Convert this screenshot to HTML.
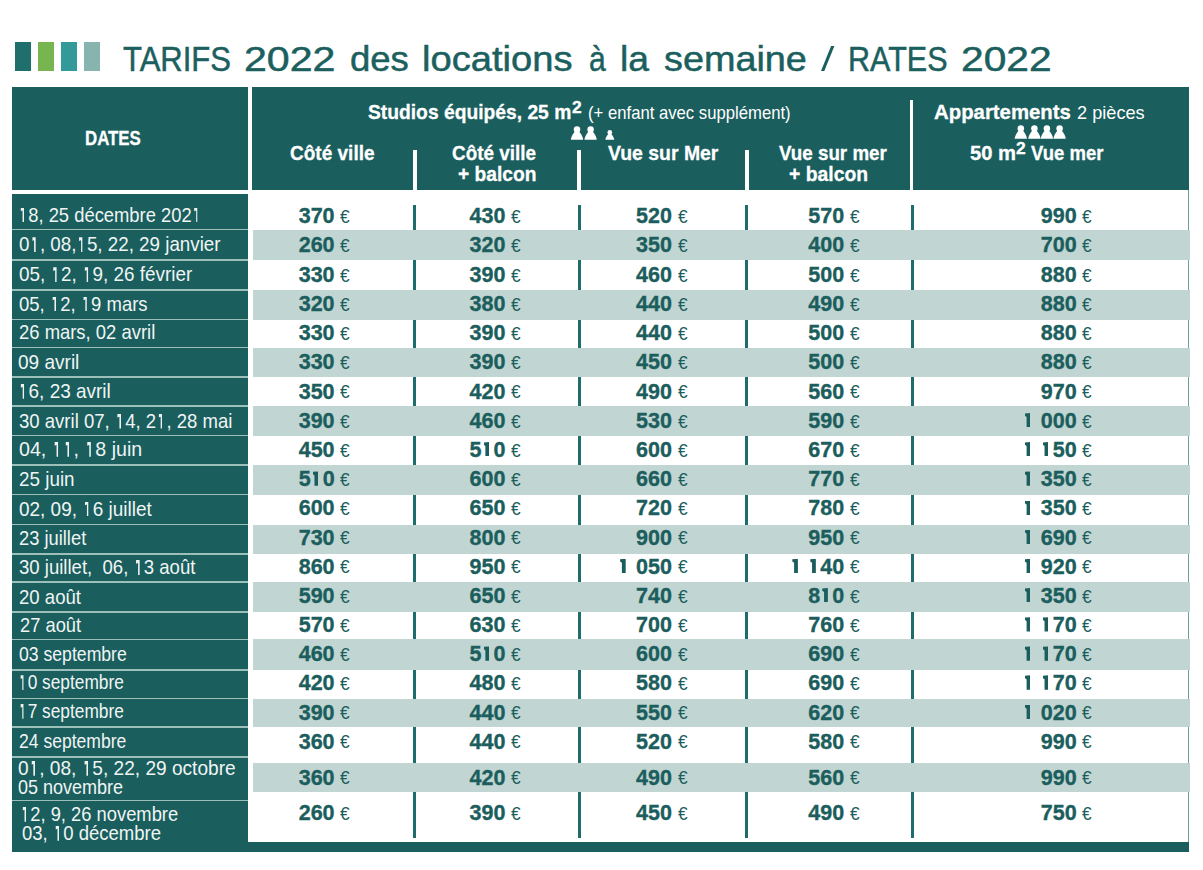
<!DOCTYPE html>
<html><head><meta charset="utf-8"><style>
*{margin:0;padding:0;box-sizing:border-box}
html,body{width:1203px;height:870px;overflow:hidden;background:#fff}
body{position:relative;font-family:"Liberation Sans",sans-serif}
.a{position:absolute}
.t{position:absolute;white-space:nowrap;line-height:1;transform-origin:0 0}
.b{font-weight:bold}
.n{-webkit-text-stroke:0.35px #1b5e5d}
.r1{position:relative;color:transparent}
.r1::before{content:"";position:absolute;left:2.9px;top:5px;width:4.1px;height:14.9px;background:#eef3f2;clip-path:polygon(0 0,4.1px 0,4.1px 100%,2.3px 100%,2.3px 3px,0 3.8px,0 2.6px)}
.d1{position:relative;color:transparent;-webkit-text-stroke:0}
.d1::before{content:"";position:absolute;left:2px;top:4.2px;width:5.6px;height:14.4px;background:#1b5e5d;clip-path:polygon(0 0.4px,5.6px 0,5.6px 100%,1.8px 100%,1.8px 4px,0 2.6px)}
</style></head><body>

<div class="a" style="left:15px;top:42px;width:16px;height:29px;background:#1f6f6d"></div>
<div class="a" style="left:38px;top:42px;width:16px;height:29px;background:#76b550"></div>
<div class="a" style="left:61px;top:42px;width:16px;height:29px;background:#339a99"></div>
<div class="a" style="left:84px;top:42px;width:16px;height:29px;background:#87b4ae"></div>
<div class="a" style="left:12px;top:87px;width:1177px;height:103px;background:#1a5e5e"></div>
<div class="a" style="left:12px;top:194px;width:236px;height:658px;background:#1a5e5e"></div>
<div class="a" style="left:248px;top:87px;width:4px;height:107px;background:#fff"></div>
<div class="a" style="left:12px;top:190px;width:236px;height:4px;background:#fff"></div>
<div class="a" style="left:12px;top:842px;width:1177px;height:10px;background:#1a5e5e"></div>
<div class="a" style="left:1188px;top:190px;width:1.3px;height:652px;background:#6a9f9b"></div>
<div class="a" style="left:413.2px;top:150px;width:3.6px;height:40px;background:#fff"></div>
<div class="a" style="left:577.4px;top:150px;width:3.6px;height:40px;background:#fff"></div>
<div class="a" style="left:745px;top:150px;width:3.5px;height:40px;background:#fff"></div>
<div class="a" style="left:909.5px;top:100px;width:3.8px;height:90px;background:#fff"></div>
<div class="a" style="left:252.5px;top:229.55px;width:937px;height:30.4px;background:#c1d5d2"></div>
<div class="a" style="left:252.5px;top:289.85px;width:937px;height:29.8px;background:#c1d5d2"></div>
<div class="a" style="left:252.5px;top:347.8px;width:937px;height:29.4px;background:#c1d5d2"></div>
<div class="a" style="left:252.5px;top:406.1px;width:937px;height:29.6px;background:#c1d5d2"></div>
<div class="a" style="left:252.5px;top:465px;width:937px;height:29.6px;background:#c1d5d2"></div>
<div class="a" style="left:252.5px;top:524.5px;width:937px;height:29.7px;background:#c1d5d2"></div>
<div class="a" style="left:252.5px;top:581.95px;width:937px;height:29.9px;background:#c1d5d2"></div>
<div class="a" style="left:252.5px;top:639.45px;width:937px;height:30.5px;background:#c1d5d2"></div>
<div class="a" style="left:252.5px;top:698.75px;width:937px;height:28.3px;background:#c1d5d2"></div>
<div class="a" style="left:252.5px;top:762.6px;width:937px;height:29.7px;background:#c1d5d2"></div>
<div class="a" style="left:413.2px;top:205px;width:3.2px;height:24.6px;background:#1e6d6c"></div>
<div class="a" style="left:578.1px;top:205px;width:3.2px;height:24.6px;background:#1e6d6c"></div>
<div class="a" style="left:745.0px;top:205px;width:3.2px;height:24.6px;background:#1e6d6c"></div>
<div class="a" style="left:910.6px;top:205px;width:3.2px;height:24.6px;background:#1e6d6c"></div>
<div class="a" style="left:413.2px;top:260.0px;width:3.2px;height:29.9px;background:#1e6d6c"></div>
<div class="a" style="left:578.1px;top:260.0px;width:3.2px;height:29.9px;background:#1e6d6c"></div>
<div class="a" style="left:745.0px;top:260.0px;width:3.2px;height:29.9px;background:#1e6d6c"></div>
<div class="a" style="left:910.6px;top:260.0px;width:3.2px;height:29.9px;background:#1e6d6c"></div>
<div class="a" style="left:413.2px;top:319.6px;width:3.2px;height:28.2px;background:#1e6d6c"></div>
<div class="a" style="left:578.1px;top:319.6px;width:3.2px;height:28.2px;background:#1e6d6c"></div>
<div class="a" style="left:745.0px;top:319.6px;width:3.2px;height:28.2px;background:#1e6d6c"></div>
<div class="a" style="left:910.6px;top:319.6px;width:3.2px;height:28.2px;background:#1e6d6c"></div>
<div class="a" style="left:413.2px;top:377.2px;width:3.2px;height:28.9px;background:#1e6d6c"></div>
<div class="a" style="left:578.1px;top:377.2px;width:3.2px;height:28.9px;background:#1e6d6c"></div>
<div class="a" style="left:745.0px;top:377.2px;width:3.2px;height:28.9px;background:#1e6d6c"></div>
<div class="a" style="left:910.6px;top:377.2px;width:3.2px;height:28.9px;background:#1e6d6c"></div>
<div class="a" style="left:413.2px;top:435.75px;width:3.2px;height:29.2px;background:#1e6d6c"></div>
<div class="a" style="left:578.1px;top:435.75px;width:3.2px;height:29.2px;background:#1e6d6c"></div>
<div class="a" style="left:745.0px;top:435.75px;width:3.2px;height:29.2px;background:#1e6d6c"></div>
<div class="a" style="left:910.6px;top:435.75px;width:3.2px;height:29.2px;background:#1e6d6c"></div>
<div class="a" style="left:413.2px;top:494.65px;width:3.2px;height:29.9px;background:#1e6d6c"></div>
<div class="a" style="left:578.1px;top:494.65px;width:3.2px;height:29.9px;background:#1e6d6c"></div>
<div class="a" style="left:745.0px;top:494.65px;width:3.2px;height:29.9px;background:#1e6d6c"></div>
<div class="a" style="left:910.6px;top:494.65px;width:3.2px;height:29.9px;background:#1e6d6c"></div>
<div class="a" style="left:413.2px;top:554.2px;width:3.2px;height:27.8px;background:#1e6d6c"></div>
<div class="a" style="left:578.1px;top:554.2px;width:3.2px;height:27.8px;background:#1e6d6c"></div>
<div class="a" style="left:745.0px;top:554.2px;width:3.2px;height:27.8px;background:#1e6d6c"></div>
<div class="a" style="left:910.6px;top:554.2px;width:3.2px;height:27.8px;background:#1e6d6c"></div>
<div class="a" style="left:413.2px;top:611.85px;width:3.2px;height:27.6px;background:#1e6d6c"></div>
<div class="a" style="left:578.1px;top:611.85px;width:3.2px;height:27.6px;background:#1e6d6c"></div>
<div class="a" style="left:745.0px;top:611.85px;width:3.2px;height:27.6px;background:#1e6d6c"></div>
<div class="a" style="left:910.6px;top:611.85px;width:3.2px;height:27.6px;background:#1e6d6c"></div>
<div class="a" style="left:413.2px;top:669.95px;width:3.2px;height:28.8px;background:#1e6d6c"></div>
<div class="a" style="left:578.1px;top:669.95px;width:3.2px;height:28.8px;background:#1e6d6c"></div>
<div class="a" style="left:745.0px;top:669.95px;width:3.2px;height:28.8px;background:#1e6d6c"></div>
<div class="a" style="left:910.6px;top:669.95px;width:3.2px;height:28.8px;background:#1e6d6c"></div>
<div class="a" style="left:413.2px;top:727.3px;width:3.2px;height:35.3px;background:#1e6d6c"></div>
<div class="a" style="left:578.1px;top:727.3px;width:3.2px;height:35.3px;background:#1e6d6c"></div>
<div class="a" style="left:745.0px;top:727.3px;width:3.2px;height:35.3px;background:#1e6d6c"></div>
<div class="a" style="left:910.6px;top:727.3px;width:3.2px;height:35.3px;background:#1e6d6c"></div>
<div class="a" style="left:413.2px;top:792.3px;width:3.2px;height:45.5px;background:#1e6d6c"></div>
<div class="a" style="left:578.1px;top:792.3px;width:3.2px;height:45.5px;background:#1e6d6c"></div>
<div class="a" style="left:745.0px;top:792.3px;width:3.2px;height:45.5px;background:#1e6d6c"></div>
<div class="a" style="left:910.6px;top:792.3px;width:3.2px;height:45.5px;background:#1e6d6c"></div>
<div class="a" style="left:12px;top:228.7px;width:236px;height:1.5px;background:#9cbfba"></div>
<div class="a" style="left:12px;top:259.1px;width:236px;height:1.5px;background:#9cbfba"></div>
<div class="a" style="left:12px;top:289.0px;width:236px;height:1.5px;background:#9cbfba"></div>
<div class="a" style="left:12px;top:318.7px;width:236px;height:1.5px;background:#9cbfba"></div>
<div class="a" style="left:12px;top:346.9px;width:236px;height:1.5px;background:#9cbfba"></div>
<div class="a" style="left:12px;top:376.3px;width:236px;height:1.5px;background:#9cbfba"></div>
<div class="a" style="left:12px;top:405.2px;width:236px;height:1.5px;background:#9cbfba"></div>
<div class="a" style="left:12px;top:434.9px;width:236px;height:1.5px;background:#9cbfba"></div>
<div class="a" style="left:12px;top:464.1px;width:236px;height:1.5px;background:#9cbfba"></div>
<div class="a" style="left:12px;top:493.8px;width:236px;height:1.5px;background:#9cbfba"></div>
<div class="a" style="left:12px;top:523.6px;width:236px;height:1.5px;background:#9cbfba"></div>
<div class="a" style="left:12px;top:553.3px;width:236px;height:1.5px;background:#9cbfba"></div>
<div class="a" style="left:12px;top:581.1px;width:236px;height:1.5px;background:#9cbfba"></div>
<div class="a" style="left:12px;top:611.0px;width:236px;height:1.5px;background:#9cbfba"></div>
<div class="a" style="left:12px;top:638.6px;width:236px;height:1.5px;background:#9cbfba"></div>
<div class="a" style="left:12px;top:669.1px;width:236px;height:1.5px;background:#9cbfba"></div>
<div class="a" style="left:12px;top:697.9px;width:236px;height:1.5px;background:#9cbfba"></div>
<div class="a" style="left:12px;top:726.1px;width:236px;height:1.5px;background:#9cbfba"></div>
<div class="a" style="left:12px;top:756.1px;width:236px;height:1.5px;background:#9cbfba"></div>
<div class="a" style="left:12px;top:799.7px;width:236px;height:1.5px;background:#9cbfba"></div>
<svg class="a" style="left:0;top:0" width="1203" height="870" fill="#fff"><circle cx="577.00" cy="129.50" r="3.25"/><path d="M575.00 131.60 C573.40 133.30 571.20 136.30 570.80 139.80 L583.20 139.80 C582.80 136.30 580.60 133.30 579.00 131.60 Z"/><circle cx="590.60" cy="129.50" r="3.25"/><path d="M588.60 131.60 C587.00 133.30 584.80 136.30 584.40 139.80 L596.80 139.80 C596.40 136.30 594.20 133.30 592.60 131.60 Z"/><circle cx="609.80" cy="132.38" r="2.34"/><path d="M608.36 133.90 C607.21 135.12 605.62 137.28 605.34 139.80 L614.26 139.80 C613.98 137.28 612.39 135.12 611.24 133.90 Z"/><circle cx="1020.80" cy="128.40" r="3.25"/><path d="M1018.80 130.50 C1017.20 132.20 1015.00 135.20 1014.60 138.70 L1027.00 138.70 C1026.60 135.20 1024.40 132.20 1022.80 130.50 Z"/><circle cx="1034.40" cy="128.40" r="3.25"/><path d="M1032.40 130.50 C1030.80 132.20 1028.60 135.20 1028.20 138.70 L1040.60 138.70 C1040.20 135.20 1038.00 132.20 1036.40 130.50 Z"/><circle cx="1046.90" cy="128.40" r="3.25"/><path d="M1044.90 130.50 C1043.30 132.20 1041.10 135.20 1040.70 138.70 L1053.10 138.70 C1052.70 135.20 1050.50 132.20 1048.90 130.50 Z"/><circle cx="1059.60" cy="128.40" r="3.25"/><path d="M1057.60 130.50 C1056.00 132.20 1053.80 135.20 1053.40 138.70 L1065.80 138.70 C1065.40 135.20 1063.20 132.20 1061.60 130.50 Z"/><polygon fill="#1b5f5e" points="821,70.9 824.3,70.9 834.4,46 831.1,46"/></svg>
<div class="t" style="left:122.70px;top:41.80px;font-size:34.5px;color:#1b5f5e;transform:scaleX(0.8992);-webkit-text-stroke:0.5px #1b5f5e;">TARIFS</div>
<div class="t" style="left:243.62px;top:41.80px;font-size:34.5px;color:#1b5f5e;transform:scaleX(1.1918);-webkit-text-stroke:0.5px #1b5f5e;">2022</div>
<div class="t" style="left:350.24px;top:41.80px;font-size:34.5px;color:#1b5f5e;transform:scaleX(1.0585);-webkit-text-stroke:0.5px #1b5f5e;">des</div>
<div class="t" style="left:422.09px;top:41.80px;font-size:34.5px;color:#1b5f5e;transform:scaleX(1.1053);-webkit-text-stroke:0.5px #1b5f5e;">locations</div>
<div class="t" style="left:589.13px;top:41.80px;font-size:34.5px;color:#1b5f5e;transform:scaleX(0.8722);-webkit-text-stroke:0.5px #1b5f5e;">à</div>
<div class="t" style="left:620.34px;top:41.80px;font-size:34.5px;color:#1b5f5e;transform:scaleX(1.0800);-webkit-text-stroke:0.5px #1b5f5e;">la</div>
<div class="t" style="left:664.10px;top:41.80px;font-size:34.5px;color:#1b5f5e;transform:scaleX(1.0953);-webkit-text-stroke:0.5px #1b5f5e;">semaine</div>
<div class="t" style="left:847.84px;top:41.80px;font-size:34.5px;color:#1b5f5e;transform:scaleX(0.8852);-webkit-text-stroke:0.5px #1b5f5e;">RATES</div>
<div class="t" style="left:960.94px;top:41.80px;font-size:34.5px;color:#1b5f5e;transform:scaleX(1.1795);-webkit-text-stroke:0.5px #1b5f5e;">2022</div>
<div class="t b" style="left:85.40px;top:126.90px;font-size:21px;color:#ffffff;transform:scaleX(0.8015);-webkit-text-stroke:0.3px #fff;">DATES</div>
<div class="t b" style="left:368.08px;top:101.30px;font-size:21px;color:#ffffff;transform:scaleX(0.9168);-webkit-text-stroke:0.3px #fff;">Studios équipés, 25 m</div>
<div class="t b" style="left:571.90px;top:99.50px;font-size:16px;color:#ffffff;transform:scaleX(1.0875);-webkit-text-stroke:0.3px #fff;">2</div>
<div class="t" style="left:588.32px;top:102.80px;font-size:19px;color:#ffffff;transform:scaleX(0.8782);">(+ enfant avec supplément)</div>
<div class="t b" style="left:289.59px;top:141.80px;font-size:21px;color:#ffffff;transform:scaleX(0.9054);-webkit-text-stroke:0.3px #fff;">Côté ville</div>
<div class="t b" style="left:451.60px;top:141.80px;font-size:21px;color:#ffffff;transform:scaleX(0.9000);-webkit-text-stroke:0.3px #fff;">Côté ville</div>
<div class="t b" style="left:457.59px;top:163.20px;font-size:21px;color:#ffffff;transform:scaleX(0.9143);-webkit-text-stroke:0.3px #fff;">+ balcon</div>
<div class="t b" style="left:608.40px;top:141.70px;font-size:21px;color:#ffffff;transform:scaleX(0.9244);-webkit-text-stroke:0.3px #fff;">Vue sur Mer</div>
<div class="t b" style="left:779.00px;top:141.70px;font-size:21px;color:#ffffff;transform:scaleX(0.8942);-webkit-text-stroke:0.3px #fff;">Vue sur mer</div>
<div class="t b" style="left:789.08px;top:163.00px;font-size:21px;color:#ffffff;transform:scaleX(0.9214);-webkit-text-stroke:0.3px #fff;">+ balcon</div>
<div class="t b" style="left:933.63px;top:101.00px;font-size:21px;color:#ffffff;transform:scaleX(0.9693);-webkit-text-stroke:0.3px #fff;">Appartements</div>
<div class="t" style="left:1077.04px;top:103.00px;font-size:19px;color:#ffffff;transform:scaleX(0.9565);">2 pièces</div>
<div class="t b" style="left:969.64px;top:141.50px;font-size:21px;color:#ffffff;transform:scaleX(0.9630);-webkit-text-stroke:0.3px #fff;">50 m</div>
<div class="t b" style="left:1015.50px;top:140.70px;font-size:16px;color:#ffffff;transform:scaleX(1.0875);-webkit-text-stroke:0.3px #fff;">2</div>
<div class="t b" style="left:1031.10px;top:141.50px;font-size:21px;color:#ffffff;transform:scaleX(0.8817);-webkit-text-stroke:0.3px #fff;">Vue mer</div>
<div class="t" style="left:18.45px;top:203.55px;font-size:21px;color:#f0f5f4;transform:scaleX(0.8749);"><span class="r1">1</span>8, 25 décembre 202<span class="r1">1</span></div>
<div class="t" style="left:19.31px;top:233.30px;font-size:21px;color:#f0f5f4;transform:scaleX(0.8942);">0<span class="r1">1</span>, 08,<span class="r1">1</span>5, 22, 29 janvier</div>
<div class="t" style="left:19.20px;top:263.30px;font-size:21px;color:#f0f5f4;transform:scaleX(0.8990);">05, <span class="r1">1</span>2, <span class="r1">1</span>9, 26 février</div>
<div class="t" style="left:19.22px;top:292.50px;font-size:21px;color:#f0f5f4;transform:scaleX(0.8813);">05, <span class="r1">1</span>2, <span class="r1">1</span>9 mars</div>
<div class="t" style="left:19.22px;top:321.20px;font-size:21px;color:#f0f5f4;transform:scaleX(0.8778);">26 mars, 02 avril</div>
<div class="t" style="left:18.49px;top:350.70px;font-size:21px;color:#f0f5f4;transform:scaleX(0.9062);">09 avril</div>
<div class="t" style="left:18.19px;top:379.90px;font-size:21px;color:#f0f5f4;transform:scaleX(0.9030);"><span class="r1">1</span>6, 23 avril</div>
<div class="t" style="left:19.12px;top:409.65px;font-size:21px;color:#f0f5f4;transform:scaleX(0.8828);">30 avril 07, <span class="r1">1</span>4, 2<span class="r1">1</span>, 28 mai</div>
<div class="t" style="left:19.17px;top:437.95px;font-size:21px;color:#f0f5f4;transform:scaleX(0.9336);">04, <span class="r1">1</span><span class="r1">1</span>, <span class="r1">1</span>8 juin</div>
<div class="t" style="left:19.20px;top:467.90px;font-size:21px;color:#f0f5f4;transform:scaleX(0.8983);">25 juin</div>
<div class="t" style="left:19.20px;top:497.50px;font-size:21px;color:#f0f5f4;transform:scaleX(0.9027);">02, 09, <span class="r1">1</span>6 juillet</div>
<div class="t" style="left:19.23px;top:527.25px;font-size:21px;color:#f0f5f4;transform:scaleX(0.8724);">23 juillet</div>
<div class="t" style="left:19.22px;top:556.00px;font-size:21px;color:#f0f5f4;transform:scaleX(0.8834);">30 juillet,&nbsp; 06, <span class="r1">1</span>3 août</div>
<div class="t" style="left:19.22px;top:585.80px;font-size:21px;color:#f0f5f4;transform:scaleX(0.8841);">20 août</div>
<div class="t" style="left:19.73px;top:614.25px;font-size:21px;color:#f0f5f4;transform:scaleX(0.8725);">27 août</div>
<div class="t" style="left:19.26px;top:643.15px;font-size:21px;color:#f0f5f4;transform:scaleX(0.8394);">03 septembre</div>
<div class="t" style="left:18.35px;top:671.20px;font-size:21px;color:#f0f5f4;transform:scaleX(0.8246);"><span class="r1">1</span>0 septembre</div>
<div class="t" style="left:18.35px;top:699.90px;font-size:21px;color:#f0f5f4;transform:scaleX(0.8246);"><span class="r1">1</span>7 septembre</div>
<div class="t" style="left:19.26px;top:729.80px;font-size:21px;color:#f0f5f4;transform:scaleX(0.8362);">24 septembre</div>
<div class="t" style="left:18.09px;top:756.90px;font-size:21px;color:#f0f5f4;transform:scaleX(0.9092);">0<span class="r1">1</span>, 08, <span class="r1">1</span>5, 22, 29 octobre</div>
<div class="t" style="left:18.14px;top:776.30px;font-size:21px;color:#f0f5f4;transform:scaleX(0.8570);">05 novembre</div>
<div class="t" style="left:20.25px;top:802.80px;font-size:21px;color:#f0f5f4;transform:scaleX(0.8742);"><span class="r1">1</span>2, 9, 26 novembre</div>
<div class="t" style="left:22.12px;top:821.80px;font-size:21px;color:#f0f5f4;transform:scaleX(0.8821);">03, <span class="r1">1</span>0 décembre</div>
<div class="t" style="left:340.20px;top:208.17px;font-size:18px;color:#1b5e5d;transform:scaleX(0.9600);">€</div>
<div class="t b n" style="left:298.70px;top:206.37px;font-size:21.5px;color:#1b5e5d">370</div>
<div class="t" style="left:511.10px;top:208.17px;font-size:18px;color:#1b5e5d;transform:scaleX(0.9600);">€</div>
<div class="t b n" style="left:469.60px;top:206.37px;font-size:21.5px;color:#1b5e5d">430</div>
<div class="t" style="left:677.60px;top:208.17px;font-size:18px;color:#1b5e5d;transform:scaleX(0.9600);">€</div>
<div class="t b n" style="left:636.10px;top:206.37px;font-size:21.5px;color:#1b5e5d">520</div>
<div class="t" style="left:849.80px;top:208.17px;font-size:18px;color:#1b5e5d;transform:scaleX(0.9600);">€</div>
<div class="t b n" style="left:808.30px;top:206.37px;font-size:21.5px;color:#1b5e5d">570</div>
<div class="t" style="left:1082.30px;top:208.17px;font-size:18px;color:#1b5e5d;transform:scaleX(0.9600);">€</div>
<div class="t b n" style="left:1040.80px;top:206.37px;font-size:21.5px;color:#1b5e5d">990</div>
<div class="t" style="left:340.20px;top:237.29px;font-size:18px;color:#1b5e5d;transform:scaleX(0.9600);">€</div>
<div class="t b n" style="left:298.70px;top:235.49px;font-size:21.5px;color:#1b5e5d">260</div>
<div class="t" style="left:511.10px;top:237.29px;font-size:18px;color:#1b5e5d;transform:scaleX(0.9600);">€</div>
<div class="t b n" style="left:469.60px;top:235.49px;font-size:21.5px;color:#1b5e5d">320</div>
<div class="t" style="left:677.60px;top:237.29px;font-size:18px;color:#1b5e5d;transform:scaleX(0.9600);">€</div>
<div class="t b n" style="left:636.10px;top:235.49px;font-size:21.5px;color:#1b5e5d">350</div>
<div class="t" style="left:849.80px;top:237.29px;font-size:18px;color:#1b5e5d;transform:scaleX(0.9600);">€</div>
<div class="t b n" style="left:808.30px;top:235.49px;font-size:21.5px;color:#1b5e5d">400</div>
<div class="t" style="left:1082.30px;top:237.29px;font-size:18px;color:#1b5e5d;transform:scaleX(0.9600);">€</div>
<div class="t b n" style="left:1040.80px;top:235.49px;font-size:21.5px;color:#1b5e5d">700</div>
<div class="t" style="left:340.20px;top:266.58px;font-size:18px;color:#1b5e5d;transform:scaleX(0.9600);">€</div>
<div class="t b n" style="left:298.70px;top:264.78px;font-size:21.5px;color:#1b5e5d">330</div>
<div class="t" style="left:511.10px;top:266.58px;font-size:18px;color:#1b5e5d;transform:scaleX(0.9600);">€</div>
<div class="t b n" style="left:469.60px;top:264.78px;font-size:21.5px;color:#1b5e5d">390</div>
<div class="t" style="left:677.60px;top:266.58px;font-size:18px;color:#1b5e5d;transform:scaleX(0.9600);">€</div>
<div class="t b n" style="left:636.10px;top:264.78px;font-size:21.5px;color:#1b5e5d">460</div>
<div class="t" style="left:849.80px;top:266.58px;font-size:18px;color:#1b5e5d;transform:scaleX(0.9600);">€</div>
<div class="t b n" style="left:808.30px;top:264.78px;font-size:21.5px;color:#1b5e5d">500</div>
<div class="t" style="left:1082.30px;top:266.58px;font-size:18px;color:#1b5e5d;transform:scaleX(0.9600);">€</div>
<div class="t b n" style="left:1040.80px;top:264.78px;font-size:21.5px;color:#1b5e5d">880</div>
<div class="t" style="left:340.20px;top:295.77px;font-size:18px;color:#1b5e5d;transform:scaleX(0.9600);">€</div>
<div class="t b n" style="left:298.70px;top:293.97px;font-size:21.5px;color:#1b5e5d">320</div>
<div class="t" style="left:511.10px;top:295.77px;font-size:18px;color:#1b5e5d;transform:scaleX(0.9600);">€</div>
<div class="t b n" style="left:469.60px;top:293.97px;font-size:21.5px;color:#1b5e5d">380</div>
<div class="t" style="left:677.60px;top:295.77px;font-size:18px;color:#1b5e5d;transform:scaleX(0.9600);">€</div>
<div class="t b n" style="left:636.10px;top:293.97px;font-size:21.5px;color:#1b5e5d">440</div>
<div class="t" style="left:849.80px;top:295.77px;font-size:18px;color:#1b5e5d;transform:scaleX(0.9600);">€</div>
<div class="t b n" style="left:808.30px;top:293.97px;font-size:21.5px;color:#1b5e5d">490</div>
<div class="t" style="left:1082.30px;top:295.77px;font-size:18px;color:#1b5e5d;transform:scaleX(0.9600);">€</div>
<div class="t b n" style="left:1040.80px;top:293.97px;font-size:21.5px;color:#1b5e5d">880</div>
<div class="t" style="left:340.20px;top:325.01px;font-size:18px;color:#1b5e5d;transform:scaleX(0.9600);">€</div>
<div class="t b n" style="left:298.70px;top:323.21px;font-size:21.5px;color:#1b5e5d">330</div>
<div class="t" style="left:511.10px;top:325.01px;font-size:18px;color:#1b5e5d;transform:scaleX(0.9600);">€</div>
<div class="t b n" style="left:469.60px;top:323.21px;font-size:21.5px;color:#1b5e5d">390</div>
<div class="t" style="left:677.60px;top:325.01px;font-size:18px;color:#1b5e5d;transform:scaleX(0.9600);">€</div>
<div class="t b n" style="left:636.10px;top:323.21px;font-size:21.5px;color:#1b5e5d">440</div>
<div class="t" style="left:849.80px;top:325.01px;font-size:18px;color:#1b5e5d;transform:scaleX(0.9600);">€</div>
<div class="t b n" style="left:808.30px;top:323.21px;font-size:21.5px;color:#1b5e5d">500</div>
<div class="t" style="left:1082.30px;top:325.01px;font-size:18px;color:#1b5e5d;transform:scaleX(0.9600);">€</div>
<div class="t b n" style="left:1040.80px;top:323.21px;font-size:21.5px;color:#1b5e5d">880</div>
<div class="t" style="left:340.20px;top:354.28px;font-size:18px;color:#1b5e5d;transform:scaleX(0.9600);">€</div>
<div class="t b n" style="left:298.70px;top:352.48px;font-size:21.5px;color:#1b5e5d">330</div>
<div class="t" style="left:511.10px;top:354.28px;font-size:18px;color:#1b5e5d;transform:scaleX(0.9600);">€</div>
<div class="t b n" style="left:469.60px;top:352.48px;font-size:21.5px;color:#1b5e5d">390</div>
<div class="t" style="left:677.60px;top:354.28px;font-size:18px;color:#1b5e5d;transform:scaleX(0.9600);">€</div>
<div class="t b n" style="left:636.10px;top:352.48px;font-size:21.5px;color:#1b5e5d">450</div>
<div class="t" style="left:849.80px;top:354.28px;font-size:18px;color:#1b5e5d;transform:scaleX(0.9600);">€</div>
<div class="t b n" style="left:808.30px;top:352.48px;font-size:21.5px;color:#1b5e5d">500</div>
<div class="t" style="left:1082.30px;top:354.28px;font-size:18px;color:#1b5e5d;transform:scaleX(0.9600);">€</div>
<div class="t b n" style="left:1040.80px;top:352.48px;font-size:21.5px;color:#1b5e5d">880</div>
<div class="t" style="left:340.20px;top:383.39px;font-size:18px;color:#1b5e5d;transform:scaleX(0.9600);">€</div>
<div class="t b n" style="left:298.70px;top:381.59px;font-size:21.5px;color:#1b5e5d">350</div>
<div class="t" style="left:511.10px;top:383.39px;font-size:18px;color:#1b5e5d;transform:scaleX(0.9600);">€</div>
<div class="t b n" style="left:469.60px;top:381.59px;font-size:21.5px;color:#1b5e5d">420</div>
<div class="t" style="left:677.60px;top:383.39px;font-size:18px;color:#1b5e5d;transform:scaleX(0.9600);">€</div>
<div class="t b n" style="left:636.10px;top:381.59px;font-size:21.5px;color:#1b5e5d">490</div>
<div class="t" style="left:849.80px;top:383.39px;font-size:18px;color:#1b5e5d;transform:scaleX(0.9600);">€</div>
<div class="t b n" style="left:808.30px;top:381.59px;font-size:21.5px;color:#1b5e5d">560</div>
<div class="t" style="left:1082.30px;top:383.39px;font-size:18px;color:#1b5e5d;transform:scaleX(0.9600);">€</div>
<div class="t b n" style="left:1040.80px;top:381.59px;font-size:21.5px;color:#1b5e5d">970</div>
<div class="t" style="left:340.20px;top:412.66px;font-size:18px;color:#1b5e5d;transform:scaleX(0.9600);">€</div>
<div class="t b n" style="left:298.70px;top:410.86px;font-size:21.5px;color:#1b5e5d">390</div>
<div class="t" style="left:511.10px;top:412.66px;font-size:18px;color:#1b5e5d;transform:scaleX(0.9600);">€</div>
<div class="t b n" style="left:469.60px;top:410.86px;font-size:21.5px;color:#1b5e5d">460</div>
<div class="t" style="left:677.60px;top:412.66px;font-size:18px;color:#1b5e5d;transform:scaleX(0.9600);">€</div>
<div class="t b n" style="left:636.10px;top:410.86px;font-size:21.5px;color:#1b5e5d">530</div>
<div class="t" style="left:849.80px;top:412.66px;font-size:18px;color:#1b5e5d;transform:scaleX(0.9600);">€</div>
<div class="t b n" style="left:808.30px;top:410.86px;font-size:21.5px;color:#1b5e5d">590</div>
<div class="t" style="left:1082.30px;top:412.66px;font-size:18px;color:#1b5e5d;transform:scaleX(0.9600);">€</div>
<div class="t b n" style="left:1022.80px;top:410.86px;font-size:21.5px;color:#1b5e5d"><span class="d1">1</span> 000</div>
<div class="t" style="left:340.20px;top:441.72px;font-size:18px;color:#1b5e5d;transform:scaleX(0.9600);">€</div>
<div class="t b n" style="left:298.70px;top:439.92px;font-size:21.5px;color:#1b5e5d">450</div>
<div class="t" style="left:511.10px;top:441.72px;font-size:18px;color:#1b5e5d;transform:scaleX(0.9600);">€</div>
<div class="t b n" style="left:469.60px;top:439.92px;font-size:21.5px;color:#1b5e5d">5<span class="d1">1</span>0</div>
<div class="t" style="left:677.60px;top:441.72px;font-size:18px;color:#1b5e5d;transform:scaleX(0.9600);">€</div>
<div class="t b n" style="left:636.10px;top:439.92px;font-size:21.5px;color:#1b5e5d">600</div>
<div class="t" style="left:849.80px;top:441.72px;font-size:18px;color:#1b5e5d;transform:scaleX(0.9600);">€</div>
<div class="t b n" style="left:808.30px;top:439.92px;font-size:21.5px;color:#1b5e5d">670</div>
<div class="t" style="left:1082.30px;top:441.72px;font-size:18px;color:#1b5e5d;transform:scaleX(0.9600);">€</div>
<div class="t b n" style="left:1022.80px;top:439.92px;font-size:21.5px;color:#1b5e5d"><span class="d1">1</span> <span class="d1">1</span>50</div>
<div class="t" style="left:340.20px;top:471.01px;font-size:18px;color:#1b5e5d;transform:scaleX(0.9600);">€</div>
<div class="t b n" style="left:298.70px;top:469.21px;font-size:21.5px;color:#1b5e5d">5<span class="d1">1</span>0</div>
<div class="t" style="left:511.10px;top:471.01px;font-size:18px;color:#1b5e5d;transform:scaleX(0.9600);">€</div>
<div class="t b n" style="left:469.60px;top:469.21px;font-size:21.5px;color:#1b5e5d">600</div>
<div class="t" style="left:677.60px;top:471.01px;font-size:18px;color:#1b5e5d;transform:scaleX(0.9600);">€</div>
<div class="t b n" style="left:636.10px;top:469.21px;font-size:21.5px;color:#1b5e5d">660</div>
<div class="t" style="left:849.80px;top:471.01px;font-size:18px;color:#1b5e5d;transform:scaleX(0.9600);">€</div>
<div class="t b n" style="left:808.30px;top:469.21px;font-size:21.5px;color:#1b5e5d">770</div>
<div class="t" style="left:1082.30px;top:471.01px;font-size:18px;color:#1b5e5d;transform:scaleX(0.9600);">€</div>
<div class="t b n" style="left:1022.80px;top:469.21px;font-size:21.5px;color:#1b5e5d"><span class="d1">1</span> 350</div>
<div class="t" style="left:340.20px;top:500.17px;font-size:18px;color:#1b5e5d;transform:scaleX(0.9600);">€</div>
<div class="t b n" style="left:298.70px;top:498.38px;font-size:21.5px;color:#1b5e5d">600</div>
<div class="t" style="left:511.10px;top:500.17px;font-size:18px;color:#1b5e5d;transform:scaleX(0.9600);">€</div>
<div class="t b n" style="left:469.60px;top:498.38px;font-size:21.5px;color:#1b5e5d">650</div>
<div class="t" style="left:677.60px;top:500.17px;font-size:18px;color:#1b5e5d;transform:scaleX(0.9600);">€</div>
<div class="t b n" style="left:636.10px;top:498.38px;font-size:21.5px;color:#1b5e5d">720</div>
<div class="t" style="left:849.80px;top:500.17px;font-size:18px;color:#1b5e5d;transform:scaleX(0.9600);">€</div>
<div class="t b n" style="left:808.30px;top:498.38px;font-size:21.5px;color:#1b5e5d">780</div>
<div class="t" style="left:1082.30px;top:500.17px;font-size:18px;color:#1b5e5d;transform:scaleX(0.9600);">€</div>
<div class="t b n" style="left:1022.80px;top:498.38px;font-size:21.5px;color:#1b5e5d"><span class="d1">1</span> 350</div>
<div class="t" style="left:340.20px;top:529.37px;font-size:18px;color:#1b5e5d;transform:scaleX(0.9600);">€</div>
<div class="t b n" style="left:298.70px;top:527.57px;font-size:21.5px;color:#1b5e5d">730</div>
<div class="t" style="left:511.10px;top:529.37px;font-size:18px;color:#1b5e5d;transform:scaleX(0.9600);">€</div>
<div class="t b n" style="left:469.60px;top:527.57px;font-size:21.5px;color:#1b5e5d">800</div>
<div class="t" style="left:677.60px;top:529.37px;font-size:18px;color:#1b5e5d;transform:scaleX(0.9600);">€</div>
<div class="t b n" style="left:636.10px;top:527.57px;font-size:21.5px;color:#1b5e5d">900</div>
<div class="t" style="left:849.80px;top:529.37px;font-size:18px;color:#1b5e5d;transform:scaleX(0.9600);">€</div>
<div class="t b n" style="left:808.30px;top:527.57px;font-size:21.5px;color:#1b5e5d">950</div>
<div class="t" style="left:1082.30px;top:529.37px;font-size:18px;color:#1b5e5d;transform:scaleX(0.9600);">€</div>
<div class="t b n" style="left:1022.80px;top:527.57px;font-size:21.5px;color:#1b5e5d"><span class="d1">1</span> 690</div>
<div class="t" style="left:340.20px;top:558.40px;font-size:18px;color:#1b5e5d;transform:scaleX(0.9600);">€</div>
<div class="t b n" style="left:298.70px;top:556.60px;font-size:21.5px;color:#1b5e5d">860</div>
<div class="t" style="left:511.10px;top:558.40px;font-size:18px;color:#1b5e5d;transform:scaleX(0.9600);">€</div>
<div class="t b n" style="left:469.60px;top:556.60px;font-size:21.5px;color:#1b5e5d">950</div>
<div class="t" style="left:677.60px;top:558.40px;font-size:18px;color:#1b5e5d;transform:scaleX(0.9600);">€</div>
<div class="t b n" style="left:618.10px;top:556.60px;font-size:21.5px;color:#1b5e5d"><span class="d1">1</span> 050</div>
<div class="t" style="left:849.80px;top:558.40px;font-size:18px;color:#1b5e5d;transform:scaleX(0.9600);">€</div>
<div class="t b n" style="left:790.30px;top:556.60px;font-size:21.5px;color:#1b5e5d"><span class="d1">1</span> <span class="d1">1</span>40</div>
<div class="t" style="left:1082.30px;top:558.40px;font-size:18px;color:#1b5e5d;transform:scaleX(0.9600);">€</div>
<div class="t b n" style="left:1022.80px;top:556.60px;font-size:21.5px;color:#1b5e5d"><span class="d1">1</span> 920</div>
<div class="t" style="left:340.20px;top:587.67px;font-size:18px;color:#1b5e5d;transform:scaleX(0.9600);">€</div>
<div class="t b n" style="left:298.70px;top:585.87px;font-size:21.5px;color:#1b5e5d">590</div>
<div class="t" style="left:511.10px;top:587.67px;font-size:18px;color:#1b5e5d;transform:scaleX(0.9600);">€</div>
<div class="t b n" style="left:469.60px;top:585.87px;font-size:21.5px;color:#1b5e5d">650</div>
<div class="t" style="left:677.60px;top:587.67px;font-size:18px;color:#1b5e5d;transform:scaleX(0.9600);">€</div>
<div class="t b n" style="left:636.10px;top:585.87px;font-size:21.5px;color:#1b5e5d">740</div>
<div class="t" style="left:849.80px;top:587.67px;font-size:18px;color:#1b5e5d;transform:scaleX(0.9600);">€</div>
<div class="t b n" style="left:808.30px;top:585.87px;font-size:21.5px;color:#1b5e5d">8<span class="d1">1</span>0</div>
<div class="t" style="left:1082.30px;top:587.67px;font-size:18px;color:#1b5e5d;transform:scaleX(0.9600);">€</div>
<div class="t b n" style="left:1022.80px;top:585.87px;font-size:21.5px;color:#1b5e5d"><span class="d1">1</span> 350</div>
<div class="t" style="left:340.20px;top:616.83px;font-size:18px;color:#1b5e5d;transform:scaleX(0.9600);">€</div>
<div class="t b n" style="left:298.70px;top:615.03px;font-size:21.5px;color:#1b5e5d">570</div>
<div class="t" style="left:511.10px;top:616.83px;font-size:18px;color:#1b5e5d;transform:scaleX(0.9600);">€</div>
<div class="t b n" style="left:469.60px;top:615.03px;font-size:21.5px;color:#1b5e5d">630</div>
<div class="t" style="left:677.60px;top:616.83px;font-size:18px;color:#1b5e5d;transform:scaleX(0.9600);">€</div>
<div class="t b n" style="left:636.10px;top:615.03px;font-size:21.5px;color:#1b5e5d">700</div>
<div class="t" style="left:849.80px;top:616.83px;font-size:18px;color:#1b5e5d;transform:scaleX(0.9600);">€</div>
<div class="t b n" style="left:808.30px;top:615.03px;font-size:21.5px;color:#1b5e5d">760</div>
<div class="t" style="left:1082.30px;top:616.83px;font-size:18px;color:#1b5e5d;transform:scaleX(0.9600);">€</div>
<div class="t b n" style="left:1022.80px;top:615.03px;font-size:21.5px;color:#1b5e5d"><span class="d1">1</span> <span class="d1">1</span>70</div>
<div class="t" style="left:340.20px;top:646.02px;font-size:18px;color:#1b5e5d;transform:scaleX(0.9600);">€</div>
<div class="t b n" style="left:298.70px;top:644.23px;font-size:21.5px;color:#1b5e5d">460</div>
<div class="t" style="left:511.10px;top:646.02px;font-size:18px;color:#1b5e5d;transform:scaleX(0.9600);">€</div>
<div class="t b n" style="left:469.60px;top:644.23px;font-size:21.5px;color:#1b5e5d">5<span class="d1">1</span>0</div>
<div class="t" style="left:677.60px;top:646.02px;font-size:18px;color:#1b5e5d;transform:scaleX(0.9600);">€</div>
<div class="t b n" style="left:636.10px;top:644.23px;font-size:21.5px;color:#1b5e5d">600</div>
<div class="t" style="left:849.80px;top:646.02px;font-size:18px;color:#1b5e5d;transform:scaleX(0.9600);">€</div>
<div class="t b n" style="left:808.30px;top:644.23px;font-size:21.5px;color:#1b5e5d">690</div>
<div class="t" style="left:1082.30px;top:646.02px;font-size:18px;color:#1b5e5d;transform:scaleX(0.9600);">€</div>
<div class="t b n" style="left:1022.80px;top:644.23px;font-size:21.5px;color:#1b5e5d"><span class="d1">1</span> <span class="d1">1</span>70</div>
<div class="t" style="left:340.20px;top:674.91px;font-size:18px;color:#1b5e5d;transform:scaleX(0.9600);">€</div>
<div class="t b n" style="left:298.70px;top:673.12px;font-size:21.5px;color:#1b5e5d">420</div>
<div class="t" style="left:511.10px;top:674.91px;font-size:18px;color:#1b5e5d;transform:scaleX(0.9600);">€</div>
<div class="t b n" style="left:469.60px;top:673.12px;font-size:21.5px;color:#1b5e5d">480</div>
<div class="t" style="left:677.60px;top:674.91px;font-size:18px;color:#1b5e5d;transform:scaleX(0.9600);">€</div>
<div class="t b n" style="left:636.10px;top:673.12px;font-size:21.5px;color:#1b5e5d">580</div>
<div class="t" style="left:849.80px;top:674.91px;font-size:18px;color:#1b5e5d;transform:scaleX(0.9600);">€</div>
<div class="t b n" style="left:808.30px;top:673.12px;font-size:21.5px;color:#1b5e5d">690</div>
<div class="t" style="left:1082.30px;top:674.91px;font-size:18px;color:#1b5e5d;transform:scaleX(0.9600);">€</div>
<div class="t b n" style="left:1022.80px;top:673.12px;font-size:21.5px;color:#1b5e5d"><span class="d1">1</span> <span class="d1">1</span>70</div>
<div class="t" style="left:340.20px;top:704.30px;font-size:18px;color:#1b5e5d;transform:scaleX(0.9600);">€</div>
<div class="t b n" style="left:298.70px;top:702.50px;font-size:21.5px;color:#1b5e5d">390</div>
<div class="t" style="left:511.10px;top:704.30px;font-size:18px;color:#1b5e5d;transform:scaleX(0.9600);">€</div>
<div class="t b n" style="left:469.60px;top:702.50px;font-size:21.5px;color:#1b5e5d">440</div>
<div class="t" style="left:677.60px;top:704.30px;font-size:18px;color:#1b5e5d;transform:scaleX(0.9600);">€</div>
<div class="t b n" style="left:636.10px;top:702.50px;font-size:21.5px;color:#1b5e5d">550</div>
<div class="t" style="left:849.80px;top:704.30px;font-size:18px;color:#1b5e5d;transform:scaleX(0.9600);">€</div>
<div class="t b n" style="left:808.30px;top:702.50px;font-size:21.5px;color:#1b5e5d">620</div>
<div class="t" style="left:1082.30px;top:704.30px;font-size:18px;color:#1b5e5d;transform:scaleX(0.9600);">€</div>
<div class="t b n" style="left:1022.80px;top:702.50px;font-size:21.5px;color:#1b5e5d"><span class="d1">1</span> 020</div>
<div class="t" style="left:340.20px;top:733.42px;font-size:18px;color:#1b5e5d;transform:scaleX(0.9600);">€</div>
<div class="t b n" style="left:298.70px;top:731.62px;font-size:21.5px;color:#1b5e5d">360</div>
<div class="t" style="left:511.10px;top:733.42px;font-size:18px;color:#1b5e5d;transform:scaleX(0.9600);">€</div>
<div class="t b n" style="left:469.60px;top:731.62px;font-size:21.5px;color:#1b5e5d">440</div>
<div class="t" style="left:677.60px;top:733.42px;font-size:18px;color:#1b5e5d;transform:scaleX(0.9600);">€</div>
<div class="t b n" style="left:636.10px;top:731.62px;font-size:21.5px;color:#1b5e5d">520</div>
<div class="t" style="left:849.80px;top:733.42px;font-size:18px;color:#1b5e5d;transform:scaleX(0.9600);">€</div>
<div class="t b n" style="left:808.30px;top:731.62px;font-size:21.5px;color:#1b5e5d">580</div>
<div class="t" style="left:1082.30px;top:733.42px;font-size:18px;color:#1b5e5d;transform:scaleX(0.9600);">€</div>
<div class="t b n" style="left:1040.80px;top:731.62px;font-size:21.5px;color:#1b5e5d">990</div>
<div class="t" style="left:340.20px;top:769.45px;font-size:18px;color:#1b5e5d;transform:scaleX(0.9600);">€</div>
<div class="t b n" style="left:298.70px;top:767.65px;font-size:21.5px;color:#1b5e5d">360</div>
<div class="t" style="left:511.10px;top:769.45px;font-size:18px;color:#1b5e5d;transform:scaleX(0.9600);">€</div>
<div class="t b n" style="left:469.60px;top:767.65px;font-size:21.5px;color:#1b5e5d">420</div>
<div class="t" style="left:677.60px;top:769.45px;font-size:18px;color:#1b5e5d;transform:scaleX(0.9600);">€</div>
<div class="t b n" style="left:636.10px;top:767.65px;font-size:21.5px;color:#1b5e5d">490</div>
<div class="t" style="left:849.80px;top:769.45px;font-size:18px;color:#1b5e5d;transform:scaleX(0.9600);">€</div>
<div class="t b n" style="left:808.30px;top:767.65px;font-size:21.5px;color:#1b5e5d">560</div>
<div class="t" style="left:1082.30px;top:769.45px;font-size:18px;color:#1b5e5d;transform:scaleX(0.9600);">€</div>
<div class="t b n" style="left:1040.80px;top:767.65px;font-size:21.5px;color:#1b5e5d">990</div>
<div class="t" style="left:340.20px;top:804.75px;font-size:18px;color:#1b5e5d;transform:scaleX(0.9600);">€</div>
<div class="t b n" style="left:298.70px;top:802.95px;font-size:21.5px;color:#1b5e5d">260</div>
<div class="t" style="left:511.10px;top:804.75px;font-size:18px;color:#1b5e5d;transform:scaleX(0.9600);">€</div>
<div class="t b n" style="left:469.60px;top:802.95px;font-size:21.5px;color:#1b5e5d">390</div>
<div class="t" style="left:677.60px;top:804.75px;font-size:18px;color:#1b5e5d;transform:scaleX(0.9600);">€</div>
<div class="t b n" style="left:636.10px;top:802.95px;font-size:21.5px;color:#1b5e5d">450</div>
<div class="t" style="left:849.80px;top:804.75px;font-size:18px;color:#1b5e5d;transform:scaleX(0.9600);">€</div>
<div class="t b n" style="left:808.30px;top:802.95px;font-size:21.5px;color:#1b5e5d">490</div>
<div class="t" style="left:1082.30px;top:804.75px;font-size:18px;color:#1b5e5d;transform:scaleX(0.9600);">€</div>
<div class="t b n" style="left:1040.80px;top:802.95px;font-size:21.5px;color:#1b5e5d">750</div>
</body></html>
